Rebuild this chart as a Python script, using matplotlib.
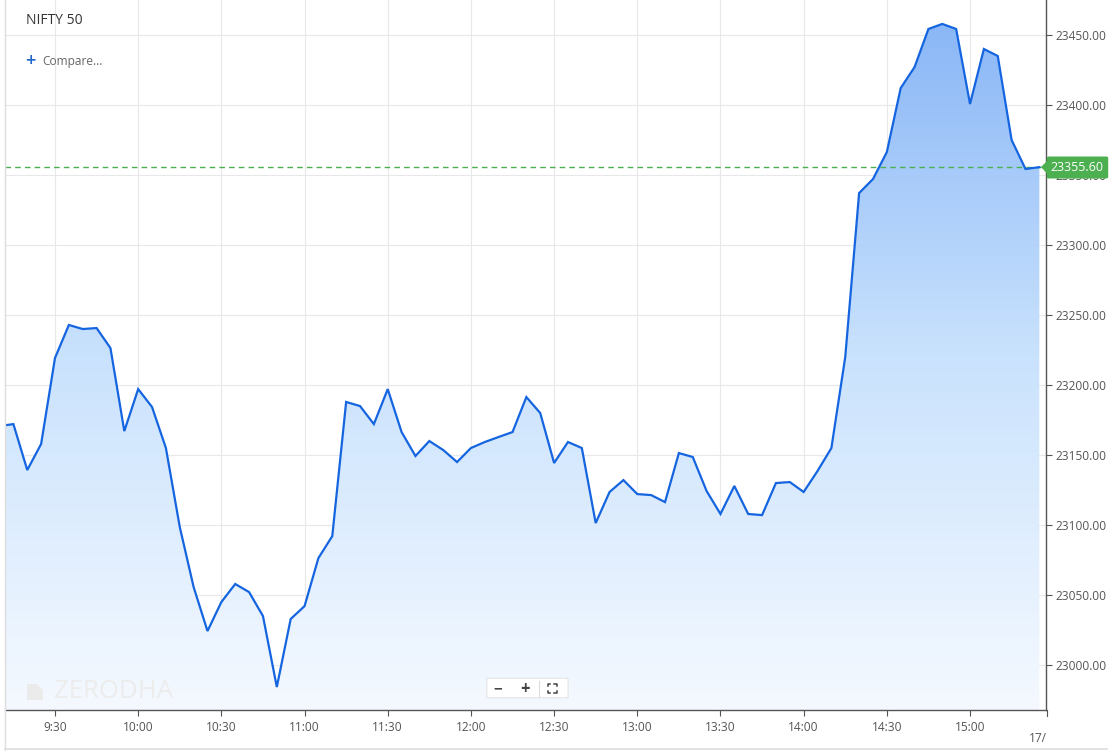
import matplotlib
matplotlib.use("Agg")
import matplotlib.pyplot as plt
import numpy as np
from matplotlib.colors import LinearSegmentedColormap
from matplotlib.patches import FancyBboxPatch, Polygon
from matplotlib.lines import Line2D

plt.rcParams['font.family'] = ['Open Sans', 'DejaVu Sans']

# 5-minute closes for NIFTY 50
times = ["9:10", "9:15", "9:20", "9:25", "9:30", "9:35", "9:40", "9:45", "9:50", "9:55",
         "10:00", "10:05", "10:10", "10:15", "10:20", "10:25", "10:30", "10:35", "10:40", "10:45",
         "10:50", "10:55", "11:00", "11:05", "11:10", "11:15", "11:20", "11:25", "11:30", "11:35",
         "11:40", "11:45", "11:50", "11:55", "12:00", "12:05", "12:10", "12:15", "12:20", "12:25",
         "12:30", "12:35", "12:40", "12:45", "12:50", "12:55", "13:00", "13:05", "13:10", "13:15",
         "13:20", "13:25", "13:30", "13:35", "13:40", "13:45", "13:50", "13:55", "14:00", "14:05",
         "14:10", "14:15", "14:20", "14:25", "14:30", "14:35", "14:40", "14:45", "14:50", "14:55",
         "15:00", "15:05", "15:10", "15:15", "15:20", "15:25"]
prices = [23170.7, 23172.1, 23139.3, 23157.9, 23219.3, 23242.9, 23240.0, 23240.7, 23226.4, 23167.1,
          23197.1, 23184.3, 23155.0, 23098.6, 23055.7, 23024.3, 23045.0, 23057.9, 23052.1, 23035.0,
          22984.3, 23032.9, 23042.1, 23076.4, 23092.1, 23187.9, 23185.0, 23172.1, 23197.1, 23166.4,
          23149.3, 23160.0, 23153.6, 23145.0, 23155.0, 23159.3, 23162.9, 23166.4, 23191.4, 23180.0,
          23144.3, 23159.3, 23155.0, 23101.4, 23123.6, 23132.1, 23122.1, 23121.4, 23116.4, 23151.4,
          23148.6, 23124.3, 23107.9, 23127.9, 23107.9, 23107.1, 23130.0, 23130.7, 23123.6, 23138.6,
          23155.0, 23220.0, 23337.1, 23347.1, 23366.4, 23412.1, 23427.1, 23454.3, 23457.9, 23454.3,
          23400.7, 23440.0, 23435.0, 23375.0, 23354.3, 23355.6]
last_price = 23355.60

xtick_labels = ["9:30", "10:00", "10:30", "11:00", "11:30", "12:00",
                "12:30", "13:00", "13:30", "14:00", "14:30", "15:00"]
ytick_values = [23000, 23050, 23100, 23150, 23200, 23250, 23300, 23350, 23400, 23450]


def to_min(t):
    h, m = t.split(":")
    return int(h) * 60 + int(m)


x = np.array([to_min(t) for t in times])
y = np.array(prices)
xticks = [to_min(t) for t in xtick_labels]

W, H = 1109, 751
fig = plt.figure(figsize=(W / 100, H / 100), dpi=100)


def px(xp, yp):
    return (xp / W, 1 - yp / H)


ax = fig.add_axes([5 / W, 41 / H, 1041 / W, 710 / H])
xmin, xmax = 551.97, 927.4
ymin, ymax = 22967.9, 23475.0
ax.set_xlim(xmin, xmax)
ax.set_ylim(ymin, ymax)

# gradient fill under the line
cmap = LinearSegmentedColormap.from_list(
    "fill", [(0, "#f5f9ff"), (0.5, "#c9e2fd"), (1, "#86b4f6")])
grad = np.linspace(0, 1, 256).reshape(-1, 1)
im = ax.imshow(grad, extent=[xmin, xmax, ymin, ymax], origin="lower",
               aspect="auto", cmap=cmap, zorder=1)
poly = ax.fill_between(x, y, ymin, facecolor="none", edgecolor="none")
im.set_clip_path(poly.get_paths()[0], transform=ax.transData)

ax.plot(x, y, color="#1565e0", lw=1.6, zorder=3, solid_joinstyle="miter")
ax.axhline(last_price, color="#4caf50", lw=1.0, dashes=(4, 3), zorder=2)

ax.set_xticks(xticks)
ax.set_xticklabels(xtick_labels)
ax.set_yticks(ytick_values)
ax.set_yticklabels([f"{v:.2f}" for v in ytick_values])
ax.yaxis.tick_right()
ax.grid(True, color="#e8e8e8", lw=0.8, zorder=0)
ax.set_axisbelow(True)
ax.tick_params(axis="both", colors="#555555", labelcolor="#555555",
               labelsize=8.6, length=4, width=0.8, direction="out")
ax.tick_params(axis="y", pad=3)
ax.tick_params(axis="x", pad=4)
for s in ["top", "left"]:
    ax.spines[s].set_visible(False)
for s in ["right", "bottom"]:
    ax.spines[s].set_color("#555555")
    ax.spines[s].set_linewidth(1.0)

# container borders
fig.add_artist(Line2D([5 / W, 5 / W], [0, 1], color="#dddddd", lw=1))
fig.add_artist(Line2D([5 / W, 1107 / W], [2 / H, 2 / H], color="#dddddd", lw=1.2))
# date tick at right end
fig.add_artist(Line2D([1046.5 / W, 1046.5 / W], [41 / H, 35 / H], color="#555555", lw=0.8))
fig.text(*px(1047, 738), "17/", ha="right", va="center", fontsize=8.6, color="#555555")

# title and compare
fig.text(*px(26, 20), "NIFTY 50", ha="left", va="center", fontsize=10, color="#333333")
fig.text(*px(30, 61), "+", ha="center", va="center", fontsize=13, color="#2065c8",
         fontweight="semibold")
fig.text(*px(42, 61), "Compare...", ha="left", va="center", fontsize=8.6, color="#666666")

# watermark
fig.add_artist(Polygon([px(27, 684), px(37, 684), px(43, 690), px(43, 700), px(27, 700)],
                       closed=True, transform=fig.transFigure, facecolor="#ebebeb",
                       edgecolor="none"))
fig.text(*px(54, 692), "ZERODHA", ha="left", va="center", fontsize=18.5,
         color="#ececec")

# zoom controls
fig.add_artist(FancyBboxPatch(px(488, 697), 79 / W, 18 / H, boxstyle="round,pad=0.001",
                              transform=fig.transFigure, facecolor="#ffffff",
                              edgecolor="#e4e4e4", lw=0.8))
fig.text(*px(498, 689), "\u2212", ha="center", va="center", fontsize=11,
         color="#444444", fontweight="bold")
fig.text(*px(525, 689), "+", ha="center", va="center", fontsize=12,
         color="#444444", fontweight="bold")
fig.add_artist(Line2D([539 / W, 539 / W], [1 - 681 / H, 1 - 697 / H], color="#dddddd", lw=0.8))
cx, cy, r, k = 552, 688.5, 4.5, 2.2
for sx in (-1, 1):
    for sy in (-1, 1):
        ex, ey = cx + sx * r, cy + sy * r
        fig.add_artist(Line2D([ex / W, ex / W, (ex - sx * k) / W],
                              [1 - (ey - sy * k) / H, 1 - ey / H, 1 - ey / H],
                              color="#444444", lw=1.1))

# last price tag
tag_green = "#4caf50"
fig.add_artist(Polygon([px(1041, 167), px(1050, 158), px(1050, 177)], closed=True,
                       transform=fig.transFigure, facecolor=tag_green, edgecolor="none"))
fig.add_artist(FancyBboxPatch(px(1049, 177), 57 / W, 19 / H, boxstyle="round,pad=0.002",
                              transform=fig.transFigure, facecolor=tag_green,
                              edgecolor="none"))
fig.text(*px(1077, 167.5), f"{last_price:.2f}", ha="center", va="center",
         fontsize=9, color="white")

fig.savefig("out.png", dpi=100)
